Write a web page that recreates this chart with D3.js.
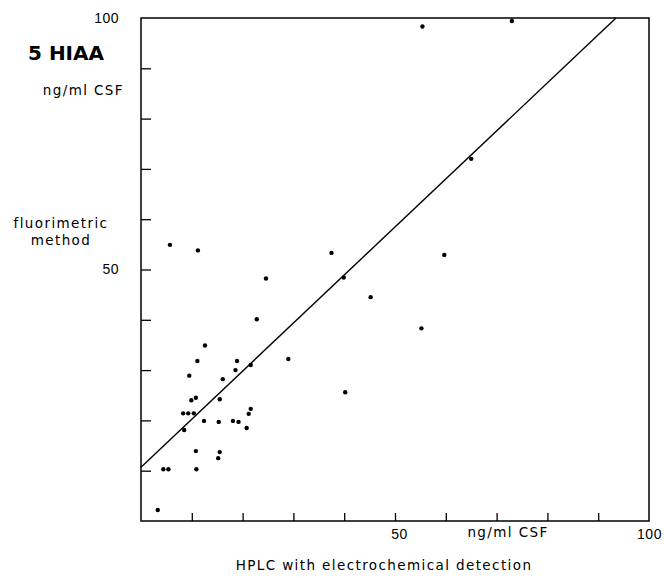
<!DOCTYPE html>
<html lang="en">
<head>
    <meta charset="UTF-8">
    <script src="https://cdnjs.cloudflare.com/ajax/libs/d3/7.8.5/d3.min.js"></script>
    <style>
        body { margin: 0; background: #fff; }
        svg { font-family: 'DejaVu Sans', sans-serif; }
        path.domain { stroke: none; }
        .tick > line { stroke: #000; stroke-width: 1.3; }
        .tick > text { fill: #000; font-size: 14px; letter-spacing: 0.5px; }
        .lbl { font-size: 13.5px; letter-spacing: 1.4px; fill: #000; }
    </style>
</head>
<body>
    <svg id="chart" width="664" height="578"></svg>
    <script>
        // HPLC (x) vs fluorimetric (y), ng/ml CSF
        const hplc = [3.3, 4.4, 5.4, 10.9, 10.8, 15.5, 15.2, 8.5, 12.4, 15.3, 18.1, 19.2, 20.8,
            22.8, 12.6, 11.1, 18.9, 18.6, 21.6, 29.0, 9.5, 16.1, 10.8, 9.9, 15.5, 8.3, 9.3, 10.4,
            21.6, 21.2, 5.7, 11.2, 24.6, 37.5, 59.7, 39.9, 45.2, 55.2, 40.2, 55.4, 73.0, 65.0];
        const fluor = [2.2, 10.3, 10.3, 10.3, 13.9, 13.7, 12.5, 18.1, 19.9, 19.7, 19.9, 19.7, 18.5,
            40.1, 34.9, 31.8, 31.8, 30.0, 31.0, 32.2, 28.9, 28.2, 24.5, 24.0, 24.2, 21.4, 21.4, 21.4,
            22.3, 21.3, 54.9, 53.8, 48.2, 53.3, 52.9, 48.4, 44.5, 38.3, 25.6, 98.3, 99.4, 72.0];
        const fitX = [0, 93.5];
        const fitY = [10.7, 100];
        const tickVals = [10, 20, 30, 40, 50, 60, 70, 80, 90, 100];
        const tickLabels = { 50: '50', 100: '100' };

        const svg = d3.select('#chart');
        const xScale = d3.scaleLinear().domain([0, 100]).range([141, 649]);
        const yScale = d3.scaleLinear().domain([0, 100]).range([521, 18]);

        const xAxis = d3.axisBottom(xScale)
            .tickValues(tickVals)
            .tickSizeInner(-8)
            .tickSizeOuter(0)
            .tickPadding(8)
            .tickFormat(d => tickLabels[d] || '');
        const xg = svg.append('g').attr('transform', 'translate(0,521)').call(xAxis);
        xg.selectAll('.tick').filter(d => d === 100).select('line').remove();
        xg.selectAll('.tick').filter(d => d === 50).select('text').attr('dx', 4);

        const yAxis = d3.axisLeft(yScale)
            .tickValues(tickVals)
            .tickSizeInner(-10)
            .tickSizeOuter(0)
            .tickPadding(22)
            .tickFormat(d => tickLabels[d] || '');
        const yg = svg.append('g').attr('transform', 'translate(141,0)').call(yAxis);
        yg.selectAll('.tick').filter(d => d === 100).select('line').remove();

        // frame
        svg.append('rect')
            .attr('x', xScale(0))
            .attr('y', yScale(100))
            .attr('width', xScale(100) - xScale(0))
            .attr('height', yScale(0) - yScale(100))
            .attr('fill', 'none')
            .attr('stroke', '#000')
            .attr('stroke-width', 1.5);

        // regression line
        const fit = fitX.map((x, i) => [x, fitY[i]]);
        svg.append('path')
            .attr('d', d3.line().x(d => xScale(d[0])).y(d => yScale(d[1]))(fit))
            .attr('fill', 'none')
            .attr('stroke', '#000')
            .attr('stroke-width', 1.4);

        svg.append('g')
            .selectAll('circle')
            .data(hplc.map((x, i) => [x, fluor[i]]))
            .join('circle')
            .attr('cx', d => xScale(d[0]))
            .attr('cy', d => yScale(d[1]))
            .attr('r', 2.2)
            .attr('fill', '#000');

        // titles
        svg.append('text')
            .attr('x', 28).attr('y', 60)
            .attr('font-size', 20).attr('font-weight', 'bold')
            .text('5 HIAA');
        svg.append('text').attr('class', 'lbl')
            .attr('x', 124).attr('y', 95).attr('text-anchor', 'end')
            .text('ng/ml CSF');
        svg.append('text').attr('class', 'lbl')
            .attr('x', 61).attr('y', 228).attr('text-anchor', 'middle')
            .text('fluorimetric');
        svg.append('text').attr('class', 'lbl')
            .attr('x', 61).attr('y', 245).attr('text-anchor', 'middle')
            .text('method');
        svg.append('text').attr('class', 'lbl')
            .attr('x', 508).attr('y', 537).attr('text-anchor', 'middle')
            .text('ng/ml CSF');
        svg.append('text').attr('class', 'lbl')
            .attr('x', 384).attr('y', 570).attr('text-anchor', 'middle')
            .text('HPLC with electrochemical detection');
    </script>
</body>
</html>
